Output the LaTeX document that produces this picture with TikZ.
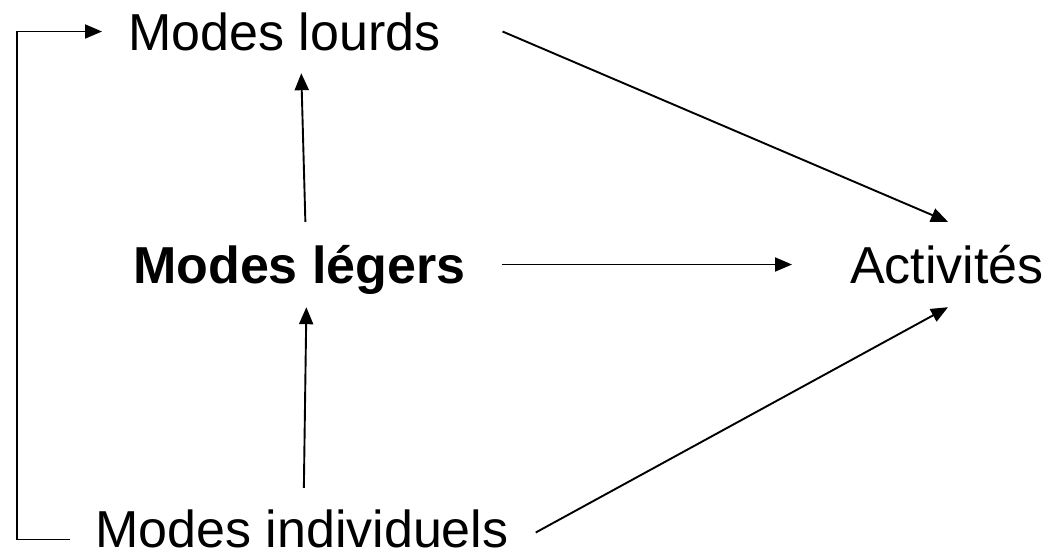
\documentclass[tikz,border=0pt]{standalone}
\usepackage{fontspec}
\setmainfont{Liberation Sans}
\usetikzlibrary{arrows.meta,calc}
\begin{document}
\begin{tikzpicture}[x=1pt,y=-1pt,
  lbl/.style={inner sep=0pt,anchor=base west,text height=37pt,text depth=0pt,font=\fontsize{52}{62}\selectfont},
  arr/.style={line width=1.9pt,-{Triangle[length=17pt,width=14pt]}}]
\useasboundingbox (0,0) rectangle (1050,552);
\node[lbl] (lourds) at (128,50) {Modes lourds};
\node[lbl,font=\fontsize{52}{62}\selectfont\bfseries] (leg) at (133,283) {Modes légers};
\node[lbl] (act) at (850,283) {Activités};
\node[lbl] (ind) at (95,547) {Modes individuels};
\coordinate (c1) at ($(ind.west)+(-25,11)$);
\draw[arr] (c1) -| ($(lourds.west)+(-111,0)$) -- ($(lourds.west)+(-26,0)$);
\draw[arr] ($(leg.north)+(6,-24)$) -- ($(lourds.south)+(17,23)$);
\draw[arr] ($(ind.north)+(2,-22)$) -- ($(leg.south)+(7,24)$);
\draw[arr] ($(leg.east)+(36,0)$) -- ($(act.west)+(-58,0)$);
\draw[arr] ($(lourds.east)+(62,0)$) -- ($(act.north)+(1,-24)$);
\draw[arr] ($(ind.east)+(27,4)$) -- ($(act.south)+(1,24)$);
\end{tikzpicture}
\end{document}
